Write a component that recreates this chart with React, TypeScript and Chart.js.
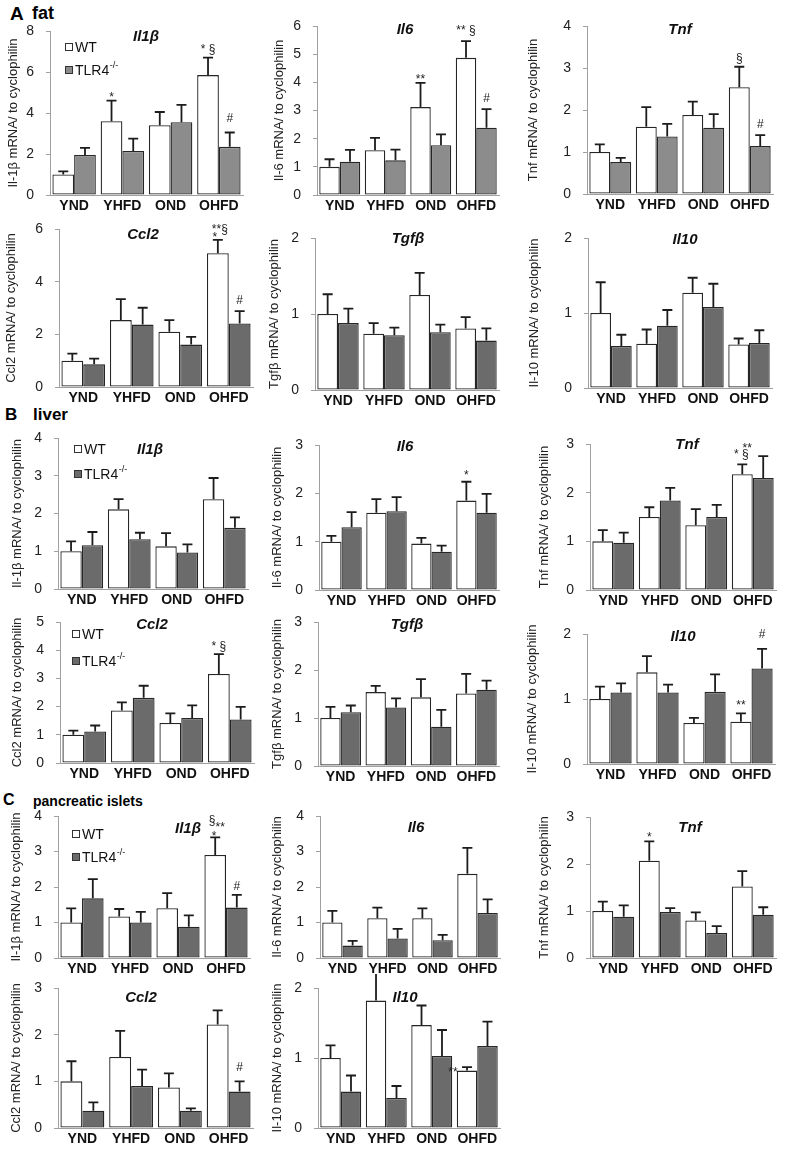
import React, { useEffect, useRef } from 'react';
import { Chart, registerables } from 'chart.js';

Chart.register(...registerables);

const FONT = "'Liberation Sans', Arial, Helvetica, sans-serif";
Chart.defaults.font.family = FONT;

const GROUPS = ['YND', 'YHFD', 'OND', 'OHFD'];
const LIGHT = '#8c8c8c';
const DARK = '#6b6b6b';
const AXIS = '#a0a0a0';

// ---------- A fat ----------
const FAT_IL1B_WT = [1.0, 3.6, 3.4, 5.85];
const FAT_IL1B_WT_SEM = [0.15, 1.0, 0.65, 0.85];
const FAT_IL1B_KO = [1.95, 2.15, 3.55, 2.35];
const FAT_IL1B_KO_SEM = [0.35, 0.6, 0.85, 0.7];

const FAT_IL6_WT = [1.0, 1.59, 3.12, 4.87];
const FAT_IL6_WT_SEM = [0.27, 0.44, 0.86, 0.59];
const FAT_IL6_KO = [1.18, 1.23, 1.77, 2.39];
const FAT_IL6_KO_SEM = [0.42, 0.38, 0.38, 0.66];

const FAT_TNF_WT = [1.0, 1.6, 1.88, 2.54];
const FAT_TNF_WT_SEM = [0.18, 0.47, 0.32, 0.49];
const FAT_TNF_KO = [0.76, 1.37, 1.58, 1.14];
const FAT_TNF_KO_SEM = [0.1, 0.3, 0.32, 0.26];

const FAT_CCL2_WT = [1.0, 2.54, 2.1, 5.08];
const FAT_CCL2_WT_SEM = [0.27, 0.8, 0.44, 0.51];
const FAT_CCL2_KO = [0.86, 2.37, 1.61, 2.41];
const FAT_CCL2_KO_SEM = [0.22, 0.64, 0.29, 0.47];

const FAT_TGFB_WT = [1.0, 0.74, 1.25, 0.81];
const FAT_TGFB_WT_SEM = [0.26, 0.14, 0.29, 0.15];
const FAT_TGFB_KO = [0.88, 0.72, 0.76, 0.65];
const FAT_TGFB_KO_SEM = [0.19, 0.1, 0.1, 0.16];

const FAT_IL10_WT = [1.0, 0.59, 1.27, 0.58];
const FAT_IL10_WT_SEM = [0.41, 0.19, 0.2, 0.08];
const FAT_IL10_KO = [0.56, 0.83, 1.08, 0.6];
const FAT_IL10_KO_SEM = [0.15, 0.21, 0.31, 0.17];

// ---------- B liver ----------
const LIV_IL1B_WT = [1.0, 2.11, 1.13, 2.38];
const LIV_IL1B_WT_SEM = [0.26, 0.27, 0.35, 0.56];
const LIV_IL1B_KO = [1.16, 1.32, 0.97, 1.62];
const LIV_IL1B_KO_SEM = [0.35, 0.17, 0.21, 0.28];

const LIV_IL6_WT = [1.0, 1.6, 0.96, 1.85];
const LIV_IL6_WT_SEM = [0.12, 0.28, 0.12, 0.39];
const LIV_IL6_KO = [1.3, 1.63, 0.79, 1.6];
const LIV_IL6_KO_SEM = [0.31, 0.29, 0.13, 0.39];

const LIV_TNF_WT = [1.0, 1.5, 1.33, 2.38];
const LIV_TNF_WT_SEM = [0.23, 0.2, 0.33, 0.2];
const LIV_TNF_KO = [0.97, 1.84, 1.5, 2.3];
const LIV_TNF_KO_SEM = [0.21, 0.26, 0.25, 0.45];

const LIV_CCL2_WT = [1.0, 1.86, 1.42, 3.16];
const LIV_CCL2_WT_SEM = [0.15, 0.29, 0.34, 0.7];
const LIV_CCL2_KO = [1.12, 2.31, 1.6, 1.54];
const LIV_CCL2_KO_SEM = [0.21, 0.43, 0.44, 0.45];

const LIV_TGFB_WT = [1.0, 1.54, 1.43, 1.51];
const LIV_TGFB_WT_SEM = [0.23, 0.13, 0.38, 0.41];
const LIV_TGFB_KO = [1.12, 1.22, 0.82, 1.59];
const LIV_TGFB_KO_SEM = [0.14, 0.19, 0.35, 0.19];

const LIV_IL10_WT = [1.0, 1.41, 0.63, 0.65];
const LIV_IL10_WT_SEM = [0.19, 0.25, 0.08, 0.13];
const LIV_IL10_KO = [1.1, 1.1, 1.11, 1.47];
const LIV_IL10_KO_SEM = [0.14, 0.12, 0.27, 0.3];

// ---------- C pancreatic islets ----------
const ISL_IL1B_WT = [1.0, 1.17, 1.4, 2.9];
const ISL_IL1B_WT_SEM = [0.4, 0.21, 0.43, 0.5];
const ISL_IL1B_KO = [1.68, 1.0, 0.88, 1.42];
const ISL_IL1B_KO_SEM = [0.54, 0.3, 0.32, 0.36];

const ISL_IL6_WT = [1.0, 1.12, 1.12, 2.37];
const ISL_IL6_WT_SEM = [0.33, 0.3, 0.28, 0.73];
const ISL_IL6_KO = [0.35, 0.55, 0.5, 1.27];
const ISL_IL6_KO_SEM = [0.13, 0.27, 0.15, 0.38];

const ISL_TNF_WT = [1.0, 2.07, 0.8, 1.52];
const ISL_TNF_WT_SEM = [0.2, 0.41, 0.17, 0.33];
const ISL_TNF_KO = [0.88, 0.98, 0.53, 0.92];
const ISL_TNF_KO_SEM = [0.24, 0.08, 0.15, 0.16];

const ISL_CCL2_WT = [1.0, 1.52, 0.87, 2.22];
const ISL_CCL2_WT_SEM = [0.43, 0.56, 0.3, 0.3];
const ISL_CCL2_KO = [0.37, 0.9, 0.37, 0.78];
const ISL_CCL2_KO_SEM = [0.18, 0.35, 0.05, 0.22];

const ISL_IL10_WT = [1.0, 1.82, 1.47, 0.82];
const ISL_IL10_WT_SEM = [0.18, 0.43, 0.28, 0.05];
const ISL_IL10_KO = [0.52, 0.43, 1.03, 1.17];
const ISL_IL10_KO_SEM = [0.23, 0.17, 0.37, 0.35];

type Line = [string, number, number];
type Ann = { ds: number; i: number; lines: Line[] };
type Panel = {
  id: string; gene: string; ytitle: string;
  wt: number[]; wtSem: number[]; ko: number[]; koSem: number[];
  max: number; step: number; koColor: string;
  axisX: number; yTop: number; zero: number; right: number; ytX: number;
  gx: number; gy: number;
  legend?: { x: number; y: number; gap: number };
  ann: Ann[];
};

const PANELS: Panel[] = [
  { id: 'a1', gene: 'Il1β', ytitle: 'Il-1β mRNA/ to cyclophilin', wt: FAT_IL1B_WT, wtSem: FAT_IL1B_WT_SEM, ko: FAT_IL1B_KO, koSem: FAT_IL1B_KO_SEM,
    max: 8, step: 2, koColor: LIGHT, axisX: 50, yTop: 31, zero: 195, right: 243, ytX: 14, gx: 146, gy: 37,
    legend: { x: 65, y: 47, gap: 23 },
    ann: [ { ds: 0, i: 1, lines: [['*', 0, 0]] }, { ds: 0, i: 3, lines: [['* §', 0, -5]] }, { ds: 1, i: 3, lines: [['#', 0, -10]] } ] },
  { id: 'a2', gene: 'Il6', ytitle: 'Il-6 mRNA/ to cyclophilin', wt: FAT_IL6_WT, wtSem: FAT_IL6_WT_SEM, ko: FAT_IL6_KO, koSem: FAT_IL6_KO_SEM,
    max: 6, step: 1, koColor: LIGHT, axisX: 317, yTop: 26, zero: 195, right: 499, ytX: 280, gx: 405, gy: 30,
    ann: [ { ds: 0, i: 2, lines: [['**', 0, 0]] }, { ds: 0, i: 3, lines: [['** §', 0, -7]] }, { ds: 1, i: 3, lines: [['#', 0, -7]] } ] },
  { id: 'a3', gene: 'Tnf', ytitle: 'Tnf mRNA/ to cyclophilin', wt: FAT_TNF_WT, wtSem: FAT_TNF_WT_SEM, ko: FAT_TNF_KO, koSem: FAT_TNF_KO_SEM,
    max: 4, step: 1, koColor: LIGHT, axisX: 587, yTop: 26, zero: 194, right: 773, ytX: 534, gx: 680, gy: 30,
    ann: [ { ds: 0, i: 3, lines: [['§', 0, -5]] }, { ds: 1, i: 3, lines: [['#', 0, -7]] } ] },
  { id: 'a4', gene: 'Ccl2', ytitle: 'Ccl2 mRNA/ to cyclophilin', wt: FAT_CCL2_WT, wtSem: FAT_CCL2_WT_SEM, ko: FAT_CCL2_KO, koSem: FAT_CCL2_KO_SEM,
    max: 6, step: 2, koColor: DARK, axisX: 59, yTop: 229, zero: 387, right: 253, ytX: 12, gx: 143, gy: 235,
    ann: [ { ds: 0, i: 3, lines: [['**§', 2, -7], ['*', -3, 1]] }, { ds: 1, i: 3, lines: [['#', 0, -7]] } ] },
  { id: 'a5', gene: 'Tgfβ', ytitle: 'Tgfβ mRNA/ to cyclophilin', wt: FAT_TGFB_WT, wtSem: FAT_TGFB_WT_SEM, ko: FAT_TGFB_KO, koSem: FAT_TGFB_KO_SEM,
    max: 2, step: 1, koColor: DARK, axisX: 315, yTop: 238, zero: 390, right: 499, ytX: 275, gx: 408, gy: 239, ann: [] },
  { id: 'a6', gene: 'Il10', ytitle: 'Il-10 mRNA/ to cyclophilin', wt: FAT_IL10_WT, wtSem: FAT_IL10_WT_SEM, ko: FAT_IL10_KO, koSem: FAT_IL10_KO_SEM,
    max: 2, step: 1, koColor: DARK, axisX: 588, yTop: 238, zero: 388, right: 772, ytX: 535, gx: 685, gy: 240, ann: [] },

  { id: 'b1', gene: 'Il1β', ytitle: 'Il-1β mRNA/ to cyclophilin', wt: LIV_IL1B_WT, wtSem: LIV_IL1B_WT_SEM, ko: LIV_IL1B_KO, koSem: LIV_IL1B_KO_SEM,
    max: 4, step: 1, koColor: DARK, axisX: 58, yTop: 438, zero: 589, right: 248, ytX: 18, gx: 150, gy: 450,
    legend: { x: 74, y: 449, gap: 25 }, ann: [] },
  { id: 'b2', gene: 'Il6', ytitle: 'Il-6 mRNA/ to cyclophilin', wt: LIV_IL6_WT, wtSem: LIV_IL6_WT_SEM, ko: LIV_IL6_KO, koSem: LIV_IL6_KO_SEM,
    max: 3, step: 1, koColor: DARK, axisX: 319, yTop: 445, zero: 590, right: 499, ytX: 278, gx: 405, gy: 447,
    ann: [ { ds: 0, i: 3, lines: [['*', 0, -3]] } ] },
  { id: 'b3', gene: 'Tnf', ytitle: 'Tnf mRNA/ to cyclophilin', wt: LIV_TNF_WT, wtSem: LIV_TNF_WT_SEM, ko: LIV_TNF_KO, koSem: LIV_TNF_KO_SEM,
    max: 3, step: 1, koColor: DARK, axisX: 590, yTop: 444, zero: 590, right: 776, ytX: 545, gx: 687, gy: 445,
    ann: [ { ds: 0, i: 3, lines: [['* §', -1, -6], ['**', 5, -12]] } ] },
  { id: 'b4', gene: 'Ccl2', ytitle: 'Ccl2 mRNA/ to cyclophilin', wt: LIV_CCL2_WT, wtSem: LIV_CCL2_WT_SEM, ko: LIV_CCL2_KO, koSem: LIV_CCL2_KO_SEM,
    max: 5, step: 1, koColor: DARK, axisX: 60, yTop: 622, zero: 763, right: 254, ytX: 18, gx: 152, gy: 625,
    legend: { x: 72, y: 634, gap: 27 },
    ann: [ { ds: 0, i: 3, lines: [['* §', 0, -4]] } ] },
  { id: 'b5', gene: 'Tgfβ', ytitle: 'Tgfβ mRNA/ to cyclophilin', wt: LIV_TGFB_WT, wtSem: LIV_TGFB_WT_SEM, ko: LIV_TGFB_KO, koSem: LIV_TGFB_KO_SEM,
    max: 3, step: 1, koColor: DARK, axisX: 318, yTop: 622, zero: 766, right: 499, ytX: 278, gx: 407, gy: 625, ann: [] },
  { id: 'b6', gene: 'Il10', ytitle: 'Il-10 mRNA/ to cyclophilin', wt: LIV_IL10_WT, wtSem: LIV_IL10_WT_SEM, ko: LIV_IL10_KO, koSem: LIV_IL10_KO_SEM,
    max: 2, step: 1, koColor: DARK, axisX: 587, yTop: 634, zero: 764, right: 775, ytX: 533, gx: 683, gy: 637,
    ann: [ { ds: 0, i: 3, lines: [['**', 0, -4]] }, { ds: 1, i: 3, lines: [['#', 0, -11]] } ] },

  { id: 'c1', gene: 'Il1β', ytitle: 'Il-1β mRNA/ to cyclophilin', wt: ISL_IL1B_WT, wtSem: ISL_IL1B_WT_SEM, ko: ISL_IL1B_KO, koSem: ISL_IL1B_KO_SEM,
    max: 4, step: 1, koColor: DARK, axisX: 58, yTop: 816, zero: 958, right: 250, ytX: 17, gx: 188, gy: 829,
    legend: { x: 72, y: 834, gap: 23 },
    ann: [ { ds: 0, i: 3, lines: [['§', -3, -13], ['**', 5, -6], ['*', -1, 3]] }, { ds: 1, i: 3, lines: [['#', 0, -5]] } ] },
  { id: 'c2', gene: 'Il6', ytitle: 'Il-6 mRNA/ to cyclophilin', wt: ISL_IL6_WT, wtSem: ISL_IL6_WT_SEM, ko: ISL_IL6_KO, koSem: ISL_IL6_KO_SEM,
    max: 4, step: 1, koColor: DARK, axisX: 320, yTop: 816, zero: 958, right: 500, ytX: 278, gx: 416, gy: 828, ann: [] },
  { id: 'c3', gene: 'Tnf', ytitle: 'Tnf mRNA/ to cyclophilin', wt: ISL_TNF_WT, wtSem: ISL_TNF_WT_SEM, ko: ISL_TNF_KO, koSem: ISL_TNF_KO_SEM,
    max: 3, step: 1, koColor: DARK, axisX: 590, yTop: 817, zero: 958, right: 776, ytX: 545, gx: 690, gy: 828,
    ann: [ { ds: 0, i: 1, lines: [['*', 0, 0]] } ] },
  { id: 'c4', gene: 'Ccl2', ytitle: 'Ccl2 mRNA/ to cyclophilin', wt: ISL_CCL2_WT, wtSem: ISL_CCL2_WT_SEM, ko: ISL_CCL2_KO, koSem: ISL_CCL2_KO_SEM,
    max: 3, step: 1, koColor: DARK, axisX: 58, yTop: 988, zero: 1128, right: 253, ytX: 17, gx: 141, gy: 998,
    ann: [ { ds: 1, i: 3, lines: [['#', 0, -10]] } ] },
  { id: 'c5', gene: 'Il10', ytitle: 'Il-10 mRNA/ to cyclophilin', wt: ISL_IL10_WT, wtSem: ISL_IL10_WT_SEM, ko: ISL_IL10_KO, koSem: ISL_IL10_KO_SEM,
    max: 2, step: 1, koColor: DARK, axisX: 318, yTop: 988, zero: 1128, right: 500, ytX: 278, gx: 405, gy: 998,
    ann: [ { ds: 0, i: 3, lines: [['**', -14, 9]] } ] },
];

const PT = 14; // space above plot
const XH = 24; // x axis height
const PR = 4;  // right padding

function makeExtras(p: Panel, left: number, top: number) {
  return {
    id: 'extras' + p.id,
    afterDatasetsDraw(chart: any) {
      const ctx = chart.ctx as CanvasRenderingContext2D;
      const ys = chart.scales.y;
      ctx.save();
      const tops: number[][] = [];
      chart.data.datasets.forEach((ds: any, di: number) => {
        const meta = chart.getDatasetMeta(di);
        tops[di] = [];
        meta.data.forEach((bar: any, i: number) => {
          const yt = ys.getPixelForValue(ds.data[i] + ds.sem[i]);
          tops[di][i] = yt;
          ctx.strokeStyle = '#1c1c1c';
          ctx.lineWidth = 1.8;
          ctx.beginPath();
          ctx.moveTo(bar.x, bar.y);
          ctx.lineTo(bar.x, yt);
          ctx.moveTo(bar.x - 5, yt);
          ctx.lineTo(bar.x + 5, yt);
          ctx.stroke();
        });
      });
      ctx.fillStyle = '#222';
      ctx.font = `12px ${FONT}`;
      ctx.textAlign = 'center';
      ctx.textBaseline = 'alphabetic';
      p.ann.forEach((a) => {
        const bar = chart.getDatasetMeta(a.ds).data[a.i];
        const yt = tops[a.ds][a.i];
        a.lines.forEach(([t, dx, dy]) => ctx.fillText(t, bar.x + dx, yt + dy));
      });
      // gene title
      ctx.font = `italic bold 15px ${FONT}`;
      ctx.fillStyle = '#111';
      ctx.textBaseline = 'middle';
      ctx.fillText(p.gene, p.gx - left, p.gy - top);
      // legend
      if (p.legend) {
        const lx = p.legend.x - left;
        const ly = p.legend.y - top;
        const rows: [string, string][] = [['#ffffff', 'WT'], [p.koColor, 'TLR4']];
        rows.forEach(([col, txt], k) => {
          const y = ly + k * p.legend!.gap;
          ctx.fillStyle = col;
          ctx.fillRect(lx, y - 4, 8, 8);
          ctx.strokeStyle = '#333';
          ctx.lineWidth = 1;
          ctx.strokeRect(lx + 0.5, y - 3.5, 7, 7);
          ctx.fillStyle = '#111';
          ctx.textAlign = 'left';
          ctx.textBaseline = 'middle';
          ctx.font = `14px ${FONT}`;
          ctx.fillText(txt, lx + 10, y + 1);
          if (k === 1) {
            const w = ctx.measureText(txt).width;
            ctx.font = `9px ${FONT}`;
            ctx.fillText('-/-', lx + 10 + w + 0.5, y - 4);
          }
        });
      }
      ctx.restore();
    },
  };
}

function PanelChart({ p }: { p: Panel }) {
  const ref = useRef<HTMLCanvasElement>(null);
  const left = p.ytX - 8;
  const top = p.yTop - PT;
  const width = p.right - left + PR;
  const height = p.zero - p.yTop + PT + XH;
  const AW = p.axisX - left;

  useEffect(() => {
    if (!ref.current) return;
    const barStyle = { borderColor: '#262626', borderWidth: 1.3, borderSkipped: false, categoryPercentage: 0.9, barPercentage: 1.0 };
    const chart = new Chart(ref.current, {
      type: 'bar',
      data: {
        labels: GROUPS,
        datasets: [
          { label: 'WT', data: p.wt, sem: p.wtSem, backgroundColor: '#ffffff', ...barStyle } as any,
          { label: 'TLR4-/-', data: p.ko, sem: p.koSem, backgroundColor: p.koColor, ...barStyle } as any,
        ],
      },
      options: {
        responsive: false,
        animation: false,
        devicePixelRatio: 1,
        layout: { padding: { top: PT, right: PR, left: 0, bottom: 0 } },
        plugins: { legend: { display: false }, tooltip: { enabled: false }, title: { display: false } },
        scales: {
          x: {
            type: 'category',
            offset: true,
            grid: { display: false, drawTicks: false },
            border: { display: true, color: AXIS, width: 1 },
            ticks: { font: { size: 14, weight: 'bold' }, color: '#111', padding: 3, maxRotation: 0, autoSkip: false },
            afterFit: (s: any) => { s.height = XH; s.paddingLeft = 0; s.paddingRight = 0; },
          },
          y: {
            min: 0,
            max: p.max,
            ticks: { stepSize: p.step, font: { size: 14 }, color: '#222', padding: 12 },
            grid: { drawOnChartArea: false, drawTicks: true, tickLength: 4, color: AXIS },
            border: { display: true, color: AXIS, width: 1 },
            title: { display: true, text: p.ytitle, font: { size: 13 }, color: '#222', padding: 0 },
            afterFit: (s: any) => { s.width = AW; s.paddingTop = 0; s.paddingBottom = 0; },
          },
        },
      } as any,
      plugins: [makeExtras(p, left, top)],
    });
    return () => chart.destroy();
  }, []);

  return (
    <div style={{ position: 'absolute', left, top, width, height }}>
      <canvas ref={ref} width={width} height={height} style={{ display: 'block' }} />
    </div>
  );
}

const headStyle: React.CSSProperties = { position: 'absolute', fontWeight: 'bold', lineHeight: 1, color: '#000', whiteSpace: 'nowrap' };

export default function App() {
  return (
    <div style={{ position: 'absolute', left: 0, top: 0, width: 787, height: 1150, background: '#fff', fontFamily: FONT, overflow: 'hidden' }}>
      <span style={{ ...headStyle, left: 10, top: 4, fontSize: 19 }}>A</span>
      <span style={{ ...headStyle, left: 32, top: 4, fontSize: 18 }}>fat</span>
      <span style={{ ...headStyle, left: 5, top: 406, fontSize: 17 }}>B</span>
      <span style={{ ...headStyle, left: 33, top: 406, fontSize: 17 }}>liver</span>
      <span style={{ ...headStyle, left: 3, top: 792, fontSize: 16 }}>C</span>
      <span style={{ ...headStyle, left: 33, top: 794, fontSize: 14 }}>pancreatic islets</span>
      {PANELS.map((p) => <PanelChart key={p.id} p={p} />)}
    </div>
  );
}
